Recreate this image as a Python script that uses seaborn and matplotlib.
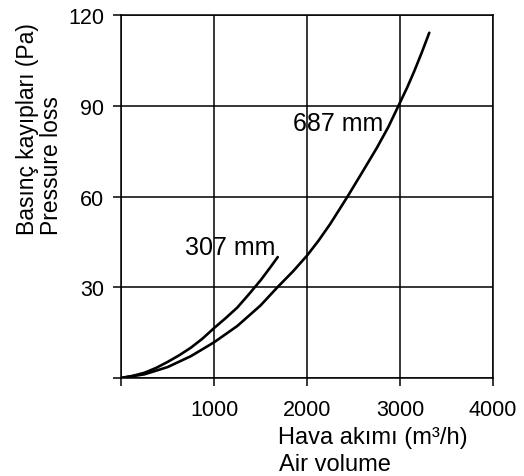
import matplotlib
matplotlib.use("Agg")
import matplotlib.pyplot as plt
import seaborn as sns
import pandas as pd

# valores
x_307 = [0, 125, 250, 375, 500, 625, 750, 875, 1000, 1125, 1250, 1375, 1500, 1600, 1685]
y_307 = [0, 0.7, 1.7, 3.3, 5.3, 7.5, 10.0, 13.0, 16.5, 19.8, 23.3, 27.7, 32.3, 36.4, 40.0]
x_687 = [0, 250, 500, 750, 1000, 1250, 1500, 1681, 1850, 2000, 2125, 2250, 2435,
         2600, 2750, 2875, 2982, 3075, 3150, 3230, 3314]
y_687 = [0, 1.2, 3.6, 7.2, 11.8, 17.2, 24.0, 30.0, 35.3, 40.5, 45.5, 51.0, 60.0,
         68.4, 76.1, 83.1, 90.0, 96.0, 101.3, 107.4, 114.2]
x_ticks = [0, 1000, 2000, 3000, 4000]
x_labels = ["", "1000", "2000", "3000", "4000"]
y_ticks = [0, 30, 60, 90, 120]
y_labels = ["", "30", "60", "90", "120"]

df = pd.concat([
    pd.DataFrame({"x": x_307, "y": y_307, "d": "307 mm"}),
    pd.DataFrame({"x": x_687, "y": y_687, "d": "687 mm"}),
])

sns.set_style("white")
plt.rcParams["font.family"] = ["Liberation Sans", "DejaVu Sans"]
plt.rcParams["text.color"] = "black"
plt.rcParams["xtick.color"] = "black"
plt.rcParams["ytick.color"] = "black"

fig = plt.figure(figsize=(5.24, 4.77), dpi=100)
ax = fig.add_axes([0.231, 0.2055, 0.71, 0.7605])

for nome, grupo in df.groupby("d"):
    sns.lineplot(data=grupo, x="x", y="y", ax=ax, color="black", lw=1.9,
                 sort=False, legend=False)

ax.set_xlim(0, 4000)
ax.set_ylim(0, 120)
ax.set_xticks(x_ticks)
ax.set_xticklabels(x_labels)
ax.set_yticks(y_ticks)
ax.set_yticklabels(y_labels)
ax.grid(True, color="black", lw=1.1)
for s in ax.spines.values():
    s.set_color("black")
    s.set_linewidth(1.1)
ax.tick_params(direction="out", length=6, width=1.1, color="black",
               labelsize=15.5, left=True, bottom=True)
ax.tick_params(axis="x", pad=9)
ax.tick_params(axis="y", pad=6)
ax.set_xlabel("")
ax.set_ylabel("")

# rótulos das curvas
ax.text(690, 43.3, "307 mm", fontsize=18, va="center", ha="left")
ax.text(1850, 84.3, "687 mm", fontsize=18, va="center", ha="left")

# títulos dos eixos
fig.text(278 / 524, 1 - 438 / 477, "Hava akımı (m³/h)", fontsize=17, va="center", ha="left")
fig.text(279 / 524, 1 - 465 / 477, "Air volume", fontsize=17, va="center", ha="left")
fig.text(28 / 524, 1 - 235 / 477, "Basınç kayıpları (Pa)", fontsize=16.5, rotation=90,
         va="bottom", ha="center")
fig.text(51 / 524, 1 - 235 / 477, "Pressure loss", fontsize=16.5, rotation=90,
         va="bottom", ha="center")

fig.savefig("out.png", dpi=100)
